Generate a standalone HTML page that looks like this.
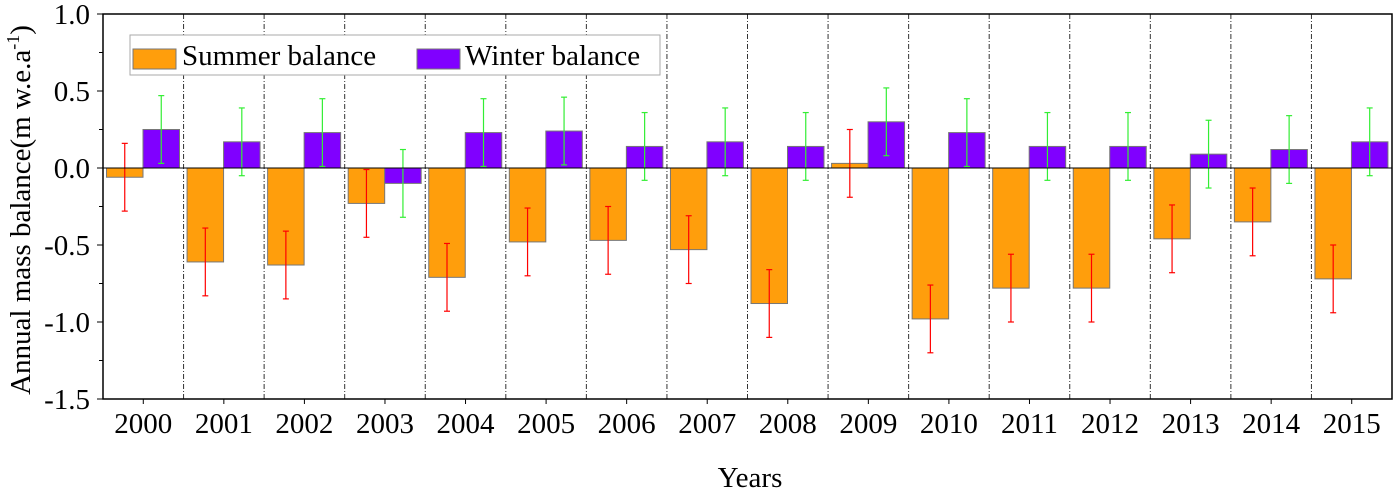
<!DOCTYPE html>
<html><head><meta charset="utf-8"><style>
html,body{margin:0;background:#fff;width:1400px;height:491px;overflow:hidden;}
svg{display:block;}
svg text{font-family:"Liberation Serif",serif;fill:#000;}
</style></head><body>
<svg id="c" width="1400" height="491" viewBox="0 0 1400 491" style="position:absolute;left:0;top:0"></svg>
<script>
const years=["2000","2001","2002","2003","2004","2005","2006","2007","2008","2009","2010","2011","2012","2013","2014","2015"];
const summer=[-0.06,-0.61,-0.63,-0.23,-0.71,-0.48,-0.47,-0.53,-0.88,0.03,-0.98,-0.78,-0.78,-0.46,-0.35,-0.72];
const winter=[0.25,0.17,0.23,-0.10,0.23,0.24,0.14,0.17,0.14,0.30,0.23,0.14,0.14,0.09,0.12,0.17];
const summerErr=[0.22,0.22,0.22,0.22,0.22,0.22,0.22,0.22,0.22,0.22,0.22,0.22,0.22,0.22,0.22,0.22];
const winterErr=[0.22,0.22,0.22,0.22,0.22,0.22,0.22,0.22,0.22,0.22,0.22,0.22,0.22,0.22,0.22,0.22];
const yTicks=["1.0","0.5","0.0","-0.5","-1.0","-1.5"];
const NS="http://www.w3.org/2000/svg",svg=document.getElementById('c');
const L=103,R=1392,T=14,B=399,yMin=-1.5,yMax=1.0;
const y=v=>B-(v-yMin)/(yMax-yMin)*(B-T);
const gw=(R-L)/years.length;
const gx=i=>L+i*gw;
function el(t,a,p){const e=document.createElementNS(NS,t);for(const k in a)e.setAttribute(k,a[k]);(p||svg).appendChild(e);return e;}
for(let i=1;i<years.length;i++){const d=el('line',{x1:gx(i),x2:gx(i),y1:T,y2:B,stroke:'#333','stroke-width':1,'stroke-dasharray':'5,2,1,2'});

}
const bw=36.5;
years.forEach((yr,i)=>{
  const x0=gx(i)+3.5;
  [[summer,summerErr,'#ff9e0c','red',x0,'summer'],[winter,winterErr,'#8000ff','#33ee33',x0+bw,'winter']].forEach(([s,e,c,ec,x,n])=>{
    const v=s[i],top=Math.min(y(v),y(0)),h=Math.abs(y(v)-y(0));
    const r=el('rect',{x:x,y:top,width:bw,height:h,fill:c,stroke:'#777','stroke-width':1});
    
    
    const cx=x+bw/2,y1=y(v+e[i]),y2=y(v-e[i]);
    const g=el('g',{stroke:ec,'stroke-width':1.2});
    
    
    el('line',{x1:cx,x2:cx,y1:y1,y2:y2},g);
    el('line',{x1:cx-3,x2:cx+3,y1:y1,y2:y1},g);
    el('line',{x1:cx-3,x2:cx+3,y1:y2,y2:y2},g);
  });
  const t=el('text',{x:gx(i)+gw/2,y:B+34,'text-anchor':'middle','font-size':29});t.textContent=yr;
  
  
  el('line',{x1:gx(i)+gw/2,x2:gx(i)+gw/2,y1:B,y2:B+5,stroke:'#000'});
});
el('line',{x1:L,x2:R,y1:y(0),y2:y(0),stroke:'#000','stroke-width':1});
yTicks.forEach(s=>{const v=parseFloat(s);
  el('line',{x1:L-6,x2:L,y1:y(v),y2:y(v),stroke:'#000'});
  if(v>yMin)el('line',{x1:L-4,x2:L,y1:y(v-0.25),y2:y(v-0.25),stroke:'#000'});
  const t=el('text',{x:L-13,y:y(v)+10,'text-anchor':'end','font-size':29});t.textContent=s;
  
  });
const f=el('rect',{x:L,y:T,width:R-L,height:B-T,fill:'none',stroke:'#000','stroke-width':1.5});


</script>
<svg width="1400" height="491" style="position:absolute;left:0;top:0;pointer-events:none">
<g>
<rect x="130" y="35" width="530" height="40" fill="#fff" stroke="#aaa"/>
<rect x="133" y="49" width="43" height="20" fill="#ff9e0c" stroke="#777"/>
<text x="182" y="65" font-size="29" font-family="Liberation Serif, serif">Summer balance</text>
<rect x="417" y="49" width="43" height="20" fill="#8000ff" stroke="#777"/>
<text x="465" y="65" font-size="29" font-family="Liberation Serif, serif">Winter balance</text>
</g>
<text x="750" y="487" text-anchor="middle" font-size="29" font-family="Liberation Serif, serif">Years</text>
<text transform="translate(30,210) rotate(-90)" text-anchor="middle" font-size="29" font-family="Liberation Serif, serif">Annual mass balance(m w.e.a<tspan dy="-11" font-size="18">-1</tspan><tspan dy="11">)</tspan></text>
</svg>
</body></html>
